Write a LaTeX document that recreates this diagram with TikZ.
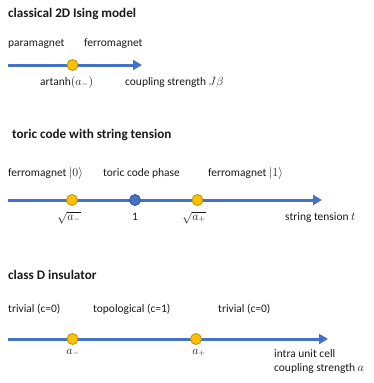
\documentclass[tikz,border=0pt]{standalone}
\usepackage{fontspec}
\setmainfont{Carlito}
\usetikzlibrary{arrows.meta}
\definecolor{axisblue}{HTML}{4472C4}
\definecolor{dotorange}{HTML}{FFC000}
\definecolor{dotorangeline}{HTML}{BF9000}
\definecolor{dotblueline}{HTML}{2F5597}
\definecolor{txt}{HTML}{1A1A1A}
\tikzset{
  axisline/.style={draw=axisblue, line width=3bp, -{Triangle[length=9bp,width=10bp]}},
  orangedot/.style={circle, fill=dotorange, draw=dotorangeline, line width=0.8bp, minimum size=11bp, inner sep=0pt},
  bluedot/.style={circle, fill=axisblue, draw=dotblueline, line width=0.8bp, minimum size=11bp, inner sep=0pt},
  lbl/.style={anchor=base west, inner sep=0pt, text=txt, font=\fontsize{11.5}{14}\selectfont},
  lblc/.style={anchor=base, inner sep=0pt, text=txt, font=\fontsize{11.5}{14}\selectfont},
  ttl/.style={anchor=base west, inner sep=0pt, text=txt, font=\fontsize{13.2}{16}\selectfont\bfseries},
}
\begin{document}
\begin{tikzpicture}[x=1bp,y=-1bp]
\useasboundingbox (0,0) rectangle (374,383);
% panel 1
\node[ttl] (t1) at (8,17) {classical 2D Ising model};
\node[lbl] (p1a) at (8,46) {paramagnet};
\node[lbl] (p1b) at (84,46) {ferromagnet};
\coordinate (s1) at (8,65);
\coordinate (e1) at (142,65);
\draw[axisline] (s1) -- (e1);
\node[orangedot] (d1) at (72.5,65) {};
\node[lbl] (l1) at (40,85) {artanh$(a_{-})$};
\node[lbl] (l1b) at (125,85) {coupling strength $J\beta$};
% panel 2
\node[ttl] (t2) at (12,138.5) {toric code with string tension};
\node[lbl] (p2a) at (8,176.5) {ferromagnet $|0\rangle$};
\node[lbl] (p2b) at (103,176.5) {toric code phase};
\node[lbl] (p2c) at (208,176.5) {ferromagnet $|1\rangle$};
\coordinate (s2) at (8,200);
\coordinate (e2) at (322,200);
\draw[axisline] (s2) -- (e2);
\node[orangedot] (d2a) at (72,200) {};
\node[bluedot] (d2b) at (135,200) {};
\node[orangedot] (d2c) at (197.5,200) {};
\node[lblc] (l2a) at (69,220) {$\sqrt{a_{-}}$};
\node[lblc] (l2b) at (135,220) {1};
\node[lblc] (l2c) at (194,220) {$\sqrt{a_{+}}$};
\node[lbl] (l2d) at (285,220) {string tension $t$};
% panel 3
\node[ttl] (t3) at (8,279) {class D insulator};
\node[lbl] (p3a) at (8,312) {trivial (c=0)};
\node[lbl] (p3b) at (93,312) {topological (c=1)};
\node[lbl] (p3c) at (218,312) {trivial (c=0)};
\coordinate (s3) at (8,339);
\coordinate (e3) at (328,339);
\draw[axisline] (s3) -- (e3);
\node[orangedot] (d3a) at (72.5,339) {};
\node[orangedot] (d3b) at (196,339) {};
\node[lblc] (l3a) at (73,354) {$a_{-}$};
\node[lblc] (l3b) at (199,354) {$a_{+}$};
\node[lbl] (l3c) at (274,357.5) {intra unit cell};
\node[lbl] (l3d) at (274,371.5) {coupling strength $a$};
\end{tikzpicture}
\end{document}
